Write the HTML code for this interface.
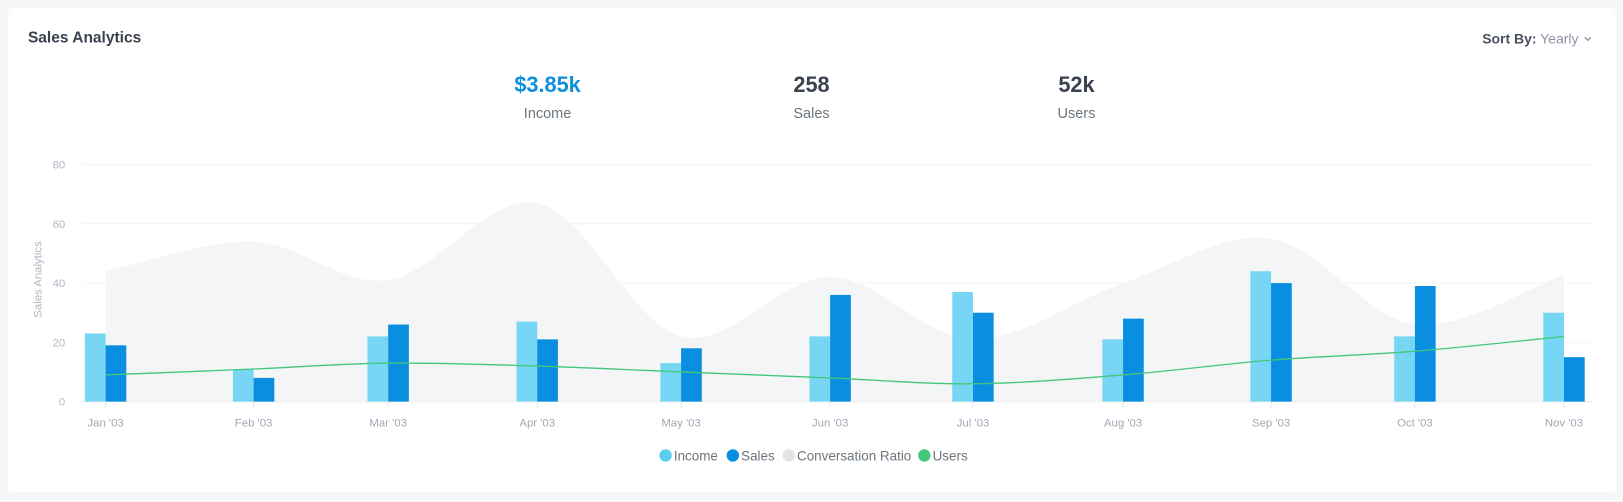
<!DOCTYPE html>
<html><head><meta charset="utf-8"><style>
body{margin:0;background:#f5f6f8;font-family:"Liberation Sans",sans-serif;overflow:hidden}
</style></head><body>
<svg id="s" width="1623" height="502" viewBox="0 0 1568 485" style="position:absolute;left:0;top:0;font-family:'Liberation Sans',sans-serif">
<rect x="8" y="8" width="1553" height="467" rx="3" fill="#fff"/>
<text x="27" y="41" font-size="15" font-weight="bold" fill="#3a4250">Sales Analytics</text>
<text x="1525" y="42" font-size="13.5" text-anchor="end" fill="#8a94a6"><tspan font-weight="bold" fill="#4a5260">Sort By:</tspan> Yearly</text>
<path d="M1531 36 l3 3 l3 -3" fill="none" stroke="#8a94a6" stroke-width="1.2"/>
<g font-size="21" font-weight="bold" text-anchor="middle">
<text x="529" y="89" fill="#0d8fe0">$3.85k</text>
<text x="784" y="89" fill="#3a4250">258</text>
<text x="1040" y="89" fill="#3a4250">52k</text></g>
<g font-size="14" fill="#6c757d" text-anchor="middle">
<text x="529" y="114">Income</text><text x="784" y="114">Sales</text><text x="1040" y="114">Users</text></g>
<g id="g"></g>
<g font-size="13" fill="#6c757d">
<circle cx="643" cy="440" r="6" fill="#5bcef0"/><text x="651" y="445">Income</text>
<circle cx="708" cy="440" r="6" fill="#0a8ee0"/><text x="716" y="445">Sales</text>
<circle cx="762" cy="440" r="6" fill="#e2e4e8"/><text x="770" y="445">Conversation Ratio</text>
<circle cx="893" cy="440" r="6" fill="#43c77d"/><text x="901" y="445">Users</text></g>
</svg>
<script>
const g=document.getElementById('g');let h='';
const Y=v=>388-v*2.8625;
const xs=[102,245,375,519,658,802,940,1085,1228,1367,1511];
const lab=["Jan '03","Feb '03","Mar '03","Apr '03","May '03","Jun '03","Jul '03","Aug '03","Sep '03","Oct '03","Nov '03"];
const inc=[23,11,22,27,13,22,37,21,44,22,30],sal=[19,8,26,21,18,36,30,28,40,39,15];
const area=[44,54,41,67,22,42,21,40,55,26,43],usr=[9,11,13,12,10,8,6,9,14,17,22];
[0,20,40,60,80].forEach(v=>{h+=`<line x1="79" x2="1538" y1="${Y(v)}" y2="${Y(v)}" stroke="${v?'#f3f4f6':'#e4e6ea'}"/>`;
h+=`<text x="63" y="${Y(v)+4}" font-size="11" fill="#b0b6c2" text-anchor="end">${v}</text>`});
h+=`<text transform="translate(40,270) rotate(-90)" font-size="11" fill="#b0b6c2" text-anchor="middle">Sales Analytics</text>`;
function sm(p){let d=`M${p[0][0]} ${p[0][1]}`;for(let i=0;i<p.length-1;i++){const p0=p[i-1]||p[i],p1=p[i],p2=p[i+1],p3=p[i+2]||p2;
d+=` C${p1[0]+(p2[0]-p0[0])/6} ${p1[1]+(p2[1]-p0[1])/6} ${p2[0]-(p3[0]-p1[0])/6} ${p2[1]-(p3[1]-p1[1])/6} ${p2[0]} ${p2[1]}`}return d}
const ap=xs.map((x,i)=>[x,Y(area[i])]);
h+=`<path d="${sm(ap)} L1511 388 L102 388Z" fill="#f4f5f7"/>`;
xs.forEach((x,i)=>{h+=`<rect x="${x-20}" y="${Y(inc[i])}" width="20" height="${388-Y(inc[i])}" fill="#77d6f4"/>`;
h+=`<rect x="${x}" y="${Y(sal[i])}" width="20" height="${388-Y(sal[i])}" fill="#0a8ee0"/>`;
h+=`<line x1="${x}" x2="${x}" y1="388" y2="394" stroke="#e4e6ea"/>`;
h+=`<text x="${x}" y="412" font-size="11" fill="#a0a8b6" text-anchor="middle">${lab[i]}</text>`});
h+=`<path d="${sm(xs.map((x,i)=>[x,Y(usr[i])]))}" fill="none" stroke="#43c77d" stroke-width="1.3"/>`;
g.innerHTML=h;
</script>
</body></html>
